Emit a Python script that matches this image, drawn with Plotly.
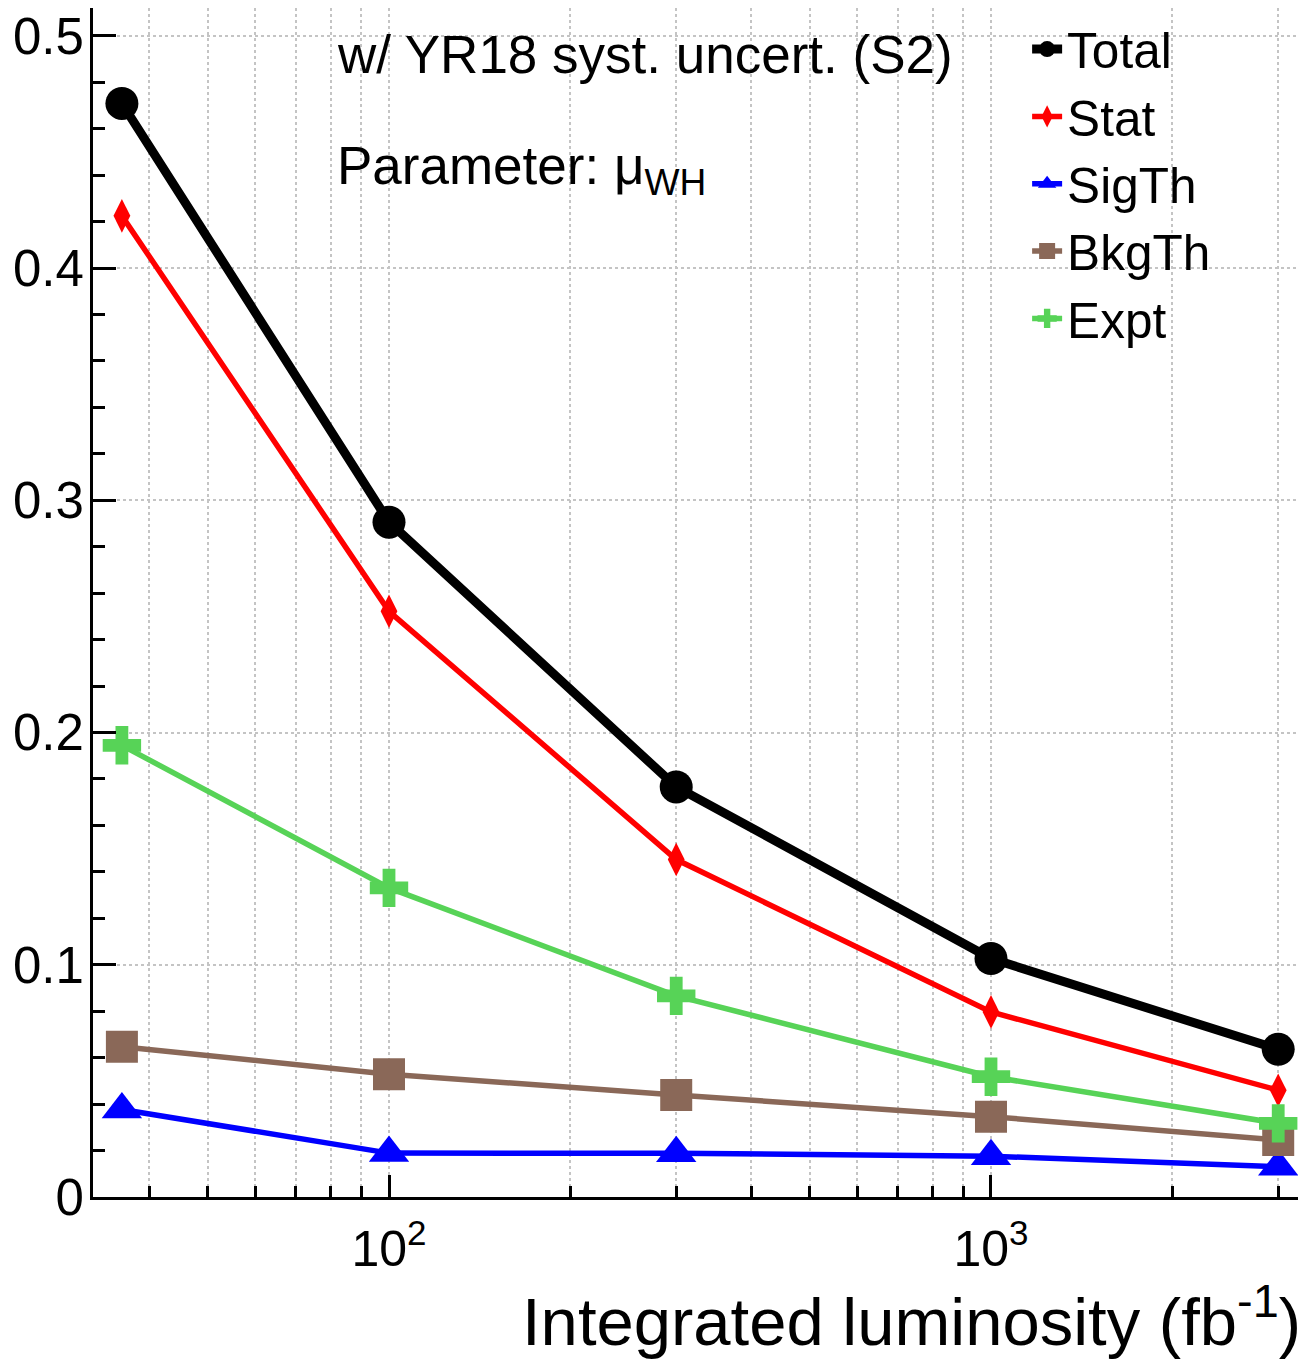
import plotly.graph_objects as go

# ---- data ----
lumi = [36, 100, 300, 1000, 3000]
total = [0.4709, 0.2906, 0.1766, 0.1027, 0.0636]
stat = [0.4225, 0.2522, 0.1453, 0.0797, 0.0460]
sigth = [0.0377, 0.0189, 0.0188, 0.0176, 0.0130]
bkgth = [0.0647, 0.0529, 0.0439, 0.0346, 0.0245]
expt = [0.1945, 0.1331, 0.0866, 0.0518, 0.0317]

x_major = [100, 1000]
x_major_text = ["10<sup>2</sup>", "10<sup>3</sup>"]
x_minor = [40, 50, 60, 70, 80, 90, 200, 300, 400, 500, 600, 700, 800, 900, 2000, 3000]
y_major = [0, 0.1, 0.2, 0.3, 0.4, 0.5]
y_major_text = ["0", "0.1", "0.2", "0.3", "0.4", "0.5"]
y_minor = [round(0.02 * i, 2) for i in range(26) if i % 5 != 0]

FONT = "Liberation Sans, Arial, Helvetica, sans-serif"

series = [
    ("Total", total, "#000000", "circle", 33, 9),
    ("Stat", stat, "#ff0000", "diamond-tall", 24, 5.5),
    ("SigTh", sigth, "#0000ff", "triangle-up", 35, 5.5),
    ("BkgTh", bkgth, "#8a6858", "square", 32, 5.5),
    ("Expt", expt, "#57d357", "cross", 32, 5.5),
]

fig = go.Figure()
for name, vals, col, sym, msize, lw in series:
    fig.add_trace(go.Scatter(
        x=lumi, y=vals, name=name, mode="lines+markers",
        line=dict(color=col, width=lw),
        marker=dict(symbol=sym, size=msize, color=col, line=dict(width=0)),
    ))

# the page body adds an 8px margin, so the figure is 8px smaller
fig.update_layout(
    width=1298, height=1353,
    margin=dict(l=85, r=3, t=0, b=164),
    paper_bgcolor="white", plot_bgcolor="white",
    font=dict(family=FONT, color="black", size=51),
    legend=dict(x=0.772, y=0.998, xanchor="left", yanchor="top",
                bgcolor="rgba(0,0,0,0)", borderwidth=0,
                font=dict(size=49.5, family=FONT), tracegroupgap=0),
)

fig.update_xaxes(
    type="log", range=[1.5083, 3.5183], automargin=False,
    tickmode="array", tickvals=x_major, ticktext=x_major_text,
    ticks="inside", ticklen=22, tickwidth=2.5, tickcolor="black",
    showline=True, mirror=True, linecolor="black", linewidth=3,
    showgrid=True, gridcolor="#c4c4c4", griddash="dot", gridwidth=1.5,
    tickfont=dict(size=50), ticklabelstandoff=6, ticklabeloverflow="allow",
    minor=dict(tickmode="array", tickvals=x_minor, ticks="inside", ticklen=11,
               tickwidth=2.5, tickcolor="black", showgrid=True,
               gridcolor="#c4c4c4", griddash="dot", gridwidth=1.5),
    zeroline=False,
)
fig.update_yaxes(
    range=[0, 0.512], automargin=False,
    tickmode="array", tickvals=y_major, ticktext=y_major_text,
    ticks="inside", ticklen=23, tickwidth=2.5, tickcolor="black",
    showline=True, mirror=True, linecolor="black", linewidth=3,
    showgrid=True, gridcolor="#c4c4c4", griddash="dot", gridwidth=1.5,
    tickfont=dict(size=51), ticklabelstandoff=-4, ticklabeloverflow="allow",
    minor=dict(tickmode="array", tickvals=y_minor, ticks="inside", ticklen=12,
               tickwidth=2.5, tickcolor="black", showgrid=False),
    zeroline=False,
)

fig.add_annotation(text="w/ YR18 syst. uncert. (S2)", xref="paper", yref="paper",
                   x=0.2, y=0.961, xanchor="left", yanchor="middle",
                   showarrow=False, font=dict(size=53, family=FONT))
fig.add_annotation(text="Parameter: μ<sub>WH</sub>", xref="paper", yref="paper",
                   x=0.2, y=0.894, xanchor="left", yanchor="top",
                   showarrow=False, font=dict(size=53, family=FONT))
fig.add_annotation(text="Integrated luminosity (fb<sup>-1</sup>)", xref="paper", yref="paper",
                   x=1.0, y=-0.1379, xanchor="right", yanchor="bottom",
                   showarrow=False, font=dict(size=67, family=FONT))

fig.write_html("out.html")
